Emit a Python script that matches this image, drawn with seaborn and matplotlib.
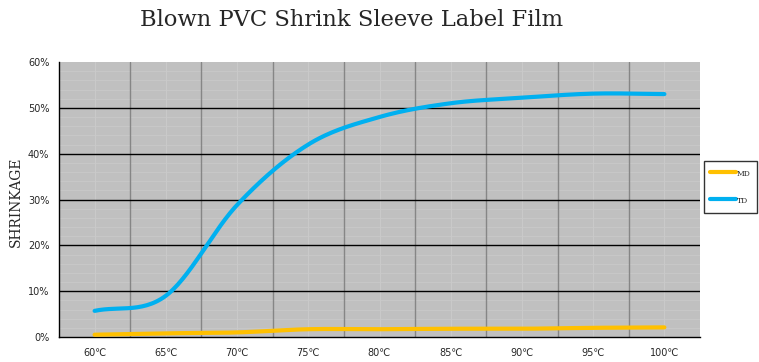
import numpy as np
import pandas as pd
import matplotlib
matplotlib.use("Agg")
import matplotlib.pyplot as plt
import seaborn as sns
from matplotlib.lines import Line2D
from matplotlib.ticker import MultipleLocator, FixedLocator, PercentFormatter

# ---- data ----
temps = ['60℃', '65℃', '70℃', '75℃', '80℃', '85℃', '90℃', '95℃', '100℃']
md_shrink = [0.5, 0.8, 1.0, 1.7, 1.7, 1.8, 1.8, 2.0, 2.1]
td_shrink = [5.7, 9.0, 28.8, 42.0, 48.0, 51.0, 52.2, 53.1, 53.0]

MD_COLOR = '#ffc000'
TD_COLOR = '#00b0f0'
BG = '#c0c0c0'
SERIF = 'DejaVu Serif'


def smooth_line(y, steps=30):
    """Catmull-Rom smoothing for drawing only (like a spreadsheet 'smoothed line')"""
    y = np.asarray(y, dtype=float)
    n = len(y)
    m = np.zeros(n)
    m[1:-1] = (y[2:] - y[:-2]) / 2
    m[0] = y[1] - y[0]
    m[-1] = y[-1] - y[-2]
    xs, ys = [], []
    for i in range(n - 1):
        t = np.linspace(0, 1, steps, endpoint=(i == n - 2))
        h00 = 2 * t**3 - 3 * t**2 + 1
        h10 = t**3 - 2 * t**2 + t
        h01 = -2 * t**3 + 3 * t**2
        h11 = t**3 - t**2
        xs.append(i + t)
        ys.append(h00 * y[i] + h10 * m[i] + h01 * y[i + 1] + h11 * m[i + 1])
    return np.concatenate(xs), np.concatenate(ys)


sns.set_style("white")
plt.rcParams['font.family'] = ['DejaVu Sans']

fig = plt.figure(figsize=(7.59, 3.62), dpi=100)
ax = fig.add_axes([59 / 759, 1 - 337 / 362, 641 / 759, 275 / 362])
ax.set_facecolor(BG)

frames = []
for name, vals in [('MD', md_shrink), ('TD', td_shrink)]:
    sx, sy = smooth_line(vals)
    frames.append(pd.DataFrame({'x': sx, 'y': sy, 'series': name}))
df = pd.concat(frames, ignore_index=True)

sns.lineplot(data=df, x='x', y='y', hue='series', palette={'MD': MD_COLOR, 'TD': TD_COLOR},
             linewidth=3, ax=ax, legend=False, zorder=5, sort=False)

ax.set_xlim(-0.5, len(temps) - 0.5)
ax.set_ylim(0, 60)

# ticks / grid
ax.yaxis.set_major_locator(MultipleLocator(10))
ax.yaxis.set_major_formatter(PercentFormatter(decimals=0))
ax.xaxis.set_major_locator(FixedLocator(range(len(temps))))
ax.set_xticklabels(temps)
ax.xaxis.set_minor_locator(FixedLocator(np.arange(0.5, len(temps) - 1, 1)))

# faint minor horizontals under everything
for yv in np.arange(2, 60, 2):
    if yv % 10:
        ax.axhline(yv, color='#c7c7c7', linewidth=0.8, zorder=0.2)
ax.grid(True, which='major', axis='x', color='#c9c9c9', linewidth=0.8)
ax.grid(True, which='minor', axis='x', color='#868686', linewidth=1)
ax.set_axisbelow(True)
# black major horizontal lines on top of the vertical grid
for yv in ax.get_yticks():
    if 0 < yv <= 50:
        ax.axhline(yv, color='black', linewidth=1, zorder=1)

ax.tick_params(which='both', length=0)
ax.tick_params(axis='y', pad=7, labelsize=7)
ax.tick_params(axis='x', pad=8, labelsize=7)

for s in ['top', 'right']:
    ax.spines[s].set_visible(False)
for s in ['left', 'bottom']:
    ax.spines[s].set_color('black')
    ax.spines[s].set_linewidth(1)

ax.set_xlabel('')
ax.set_ylabel('')

fig.text(352 / 759, 1 - 20 / 362, 'Blown PVC Shrink Sleeve Label Film', ha='center', va='center',
         fontsize=16.3, family=SERIF)
fig.text(16 / 759, 1 - 202 / 362, 'SHRINKAGE', ha='center', va='center', rotation=90,
         fontsize=10, family=SERIF)

handles = [Line2D([], [], color=MD_COLOR, linewidth=3), Line2D([], [], color=TD_COLOR, linewidth=3)]
leg = fig.legend(handles, ['MD', 'TD'], loc='center left', bbox_to_anchor=(704 / 759, 1 - 187 / 362),
                 frameon=True, fancybox=False, edgecolor='black', handlelength=3.4, handleheight=2,
                 handletextpad=0.1, labelspacing=2.0, borderpad=0.8, borderaxespad=0,
                 prop={'family': SERIF, 'size': 5.5})
leg.get_frame().set_linewidth(1)

fig.savefig('out.png', dpi=100)
